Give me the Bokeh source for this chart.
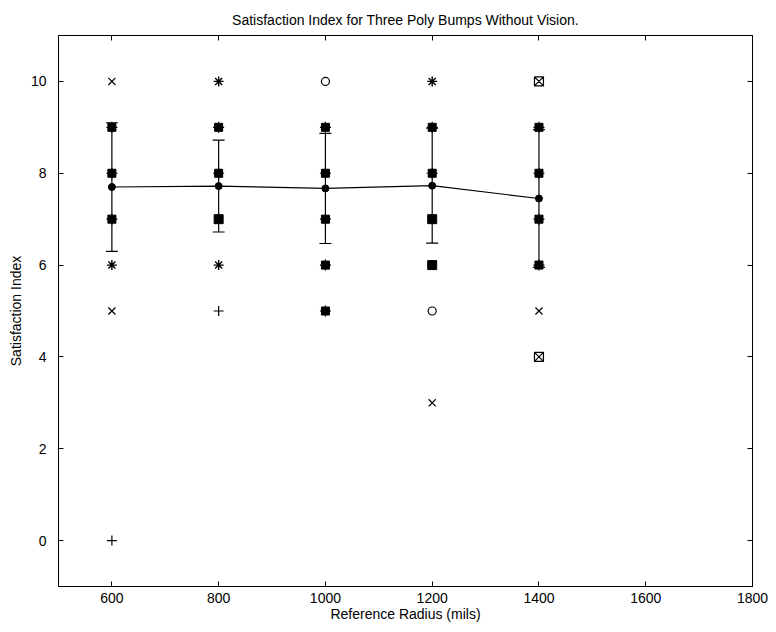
from bokeh.plotting import figure
from bokeh.models import (Range1d, FixedTicker, LinearAxis, Whisker, ColumnDataSource,
                          TeeHead, CustomJSTickFormatter)
from bokeh.embed import file_html
from bokeh.resources import INLINE

# ---- data ----
radius = [600, 800, 1000, 1200, 1400]
mean_index = [7.70, 7.72, 7.67, 7.73, 7.45]
err_low = [6.30, 6.72, 6.47, 6.48, 5.95]
err_high = [9.10, 8.72, 8.87, 8.98, 8.95]

pt_radius = [600, 600, 600, 600, 600, 600, 600,
             800, 800, 800, 800, 800, 800,
             1000, 1000, 1000, 1000, 1000, 1000,
             1200, 1200, 1200, 1200, 1200, 1200, 1200,
             1400, 1400, 1400, 1400, 1400, 1400, 1400]
pt_value = [10, 9, 8, 7, 6, 5, 0,
            10, 9, 8, 7, 6, 5,
            10, 9, 8, 7, 6, 5,
            10, 9, 8, 7, 6, 5, 3,
            10, 9, 8, 7, 6, 5, 4]
pt_marker = ["x", "blob", "blob", "blob", "asterisk", "x", "cross",
             "asterisk", "blob", "blob", "square", "asterisk", "cross",
             "circle", "blob", "blob", "blob", "blob", "blob",
             "asterisk", "blob", "blob", "square", "square", "circle", "x",
             "square_x", "blob", "blob", "blob", "blob", "x", "square_x"]

x_ticks = [600, 800, 1000, 1200, 1400, 1600, 1800]
y_ticks = [0, 2, 4, 6, 8, 10]

FONT = "Liberation Sans"

p = figure(width=768, height=624, output_backend="svg", toolbar_location=None,
           x_range=Range1d(500, 1800), y_range=Range1d(-1, 11),
           title="Satisfaction Index for Three Poly Bumps Without Vision.",
           min_border_left=58, min_border_right=16, min_border_top=35, min_border_bottom=37)

p.title.align = "center"
p.title.text_font = FONT
p.title.text_font_size = "14px"
p.title.text_font_style = "normal"
p.title.text_color = "black"
p.title.standoff = 15

p.xgrid.visible = False
p.ygrid.visible = False
p.outline_line_color = "black"
p.outline_line_width = 1

for ax, ticks in ((p.xaxis[0], x_ticks), (p.yaxis[0], y_ticks)):
    ax.ticker = FixedTicker(ticks=ticks)
    ax.major_tick_in = 5
    ax.major_tick_out = 0
    ax.minor_tick_line_color = None
    ax.axis_line_color = "black"
    ax.major_tick_line_color = "black"
    ax.major_label_text_font = FONT
    ax.major_label_text_font_size = "14px"
    ax.major_label_text_color = "black"
    ax.axis_label_text_font = FONT
    ax.axis_label_text_font_size = "14px"
    ax.axis_label_text_font_style = "normal"
    ax.axis_label_text_color = "black"
p.xaxis.axis_label = "Reference Radius (mils)"
p.yaxis.axis_label = "Satisfaction Index"
p.xaxis.major_label_standoff = 6
p.yaxis.major_label_standoff = 12
p.xaxis.axis_label_standoff = 0
p.yaxis.axis_label_standoff = 4

blank = CustomJSTickFormatter(code="return ''")
for loc, ticks in (("above", x_ticks), ("right", y_ticks)):
    ax = LinearAxis(ticker=FixedTicker(ticks=ticks), major_tick_in=5, major_tick_out=0,
                    minor_tick_line_color=None, formatter=blank,
                    major_label_standoff=0, axis_line_color="black")
    p.add_layout(ax, loc)

# scatter of individual responses
def sel(kind):
    idx = [i for i, m in enumerate(pt_marker) if m == kind]
    return [pt_radius[i] for i in idx], [pt_value[i] for i in idx]

xs, ys = sel("x")
p.scatter(xs, ys, marker="x", size=10, line_color="black", line_width=1.2)
xs, ys = sel("cross")
p.scatter(xs, ys, marker="cross", size=10, line_color="black", line_width=1.2)
xs, ys = sel("asterisk")
p.scatter(xs, ys, marker="asterisk", size=10, line_color="black", line_width=1.4)
xs, ys = sel("circle")
p.scatter(xs, ys, marker="circle", size=8, line_color="black", fill_color=None, line_width=1.2)
xs, ys = sel("square")
p.scatter(xs, ys, marker="square", size=9, line_color="black", fill_color="black")
xs, ys = sel("square_x")
p.scatter(xs, ys, marker="square_x", size=9, line_color="black", fill_color=None, line_width=1.2)
xs, ys = sel("blob")
p.scatter(xs, ys, marker="square", size=8, line_color="black", fill_color="black")
p.scatter(xs, ys, marker="asterisk", size=11, line_color="black", line_width=1.2)

# mean with error bars
src = ColumnDataSource(dict(x=radius, m=mean_index, lo=err_low, hi=err_high))
wh = Whisker(source=src, base="x", lower="lo", upper="hi", line_color="black", line_width=1.2,
             lower_head=TeeHead(size=12, line_color="black", line_width=1.2),
             upper_head=TeeHead(size=12, line_color="black", line_width=1.2))
p.add_layout(wh)
p.line("x", "m", source=src, line_color="black", line_width=1.2)
p.scatter("x", "m", source=src, marker="circle", size=7, fill_color="black", line_color="black")

open("out.html", "w").write(file_html(p, INLINE))
